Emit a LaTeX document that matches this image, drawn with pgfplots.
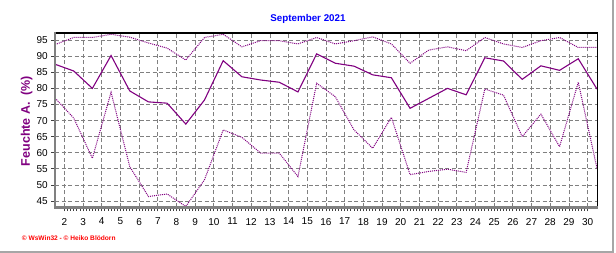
\documentclass[border=0pt]{standalone}
\usepackage{fontspec}
\setmainfont{Liberation Sans}
\usepackage{pgfplots}
\pgfplotsset{compat=1.18}
\definecolor{lin}{HTML}{800080}
\definecolor{grd}{HTML}{808080}
\definecolor{ttl}{HTML}{0000FF}
\begin{document}
\begin{tikzpicture}[x=1pt,y=1pt]
\useasboundingbox (0,0) rectangle (616,253);
\begin{axis}[
  at={(55pt,45.5pt)}, anchor=south west,
  scale only axis, width=542.7pt, height=174.5pt,
  xmin=1.5, xmax=30.54, ymin=43.0, ymax=97.2,
  xtick={2,...,30}, ytick={45,50,...,95},
  minor x tick num=5,
  tick align=outside, xtick pos=bottom, ytick pos=left,
  major tick length=3.8pt, minor tick length=3.3pt,
  tick style={color=black!75, line width=0.8pt},
  grid=major,
  major grid style={grd, line width=0.8pt, dash pattern=on 4pt off 2.5pt},
  axis line style={draw=none},
  ticklabel style={font=\fontsize{10}{12}\selectfont},
  /pgf/number format/assume math mode=true,
  xticklabel style={yshift=-3.2pt},
  clip=false,
]
% maximum
\addplot[lin, line width=1pt, dash pattern=on 1pt off 1pt] coordinates {
(1.5,93.6)(2.5,95.8)(3.5,95.8)(4.5,96.8)(5.5,95.9)(6.5,94.1)(7.5,92.5)(8.5,88.8)
(9.5,95.8)(10.5,96.8)(11.5,92.9)(12.5,94.8)(13.5,94.8)(14.5,93.8)(15.5,95.8)
(16.5,93.8)(17.5,94.8)(18.5,96.0)(19.5,93.8)(20.5,87.8)(21.5,91.9)(22.5,92.9)
(23.5,91.7)(24.5,95.8)(25.5,93.8)(26.5,92.7)(27.5,94.8)(28.5,95.8)(29.5,92.7)(30.5,92.7)
};
% mean
\addplot[lin, line width=1.1pt] coordinates {
(1.5,87.5)(2.5,85.4)(3.5,80.0)(4.5,90.2)(5.5,79.2)(6.5,75.8)(7.5,75.4)(8.5,68.9)
(9.5,76.4)(10.5,88.6)(11.5,83.6)(12.5,82.6)(13.5,81.9)(14.5,78.9)(15.5,90.7)
(16.5,87.8)(17.5,86.9)(18.5,84.2)(19.5,83.3)(20.5,73.8)(21.5,76.9)(22.5,80.0)
(23.5,78.0)(24.5,89.5)(25.5,88.5)(26.5,82.8)(27.5,87.0)(28.5,85.6)(29.5,89.2)(30.5,79.8)
};
% minimum
\addplot[lin, line width=1pt, dash pattern=on 1pt off 1pt] coordinates {
(1.5,77.0)(2.5,70.8)(3.5,58.3)(4.5,78.8)(5.5,55.7)(6.5,46.4)(7.5,47.2)(8.5,43.3)
(9.5,51.6)(10.5,67.1)(11.5,64.8)(12.5,59.9)(13.5,59.9)(14.5,52.6)(15.5,81.6)
(16.5,77.4)(17.5,67.1)(18.5,61.4)(19.5,71.0)(20.5,53.2)(21.5,54.2)(22.5,54.9)
(23.5,53.9)(24.5,79.8)(25.5,77.9)(26.5,65.0)(27.5,72.0)(28.5,61.9)(29.5,81.9)(30.5,55.2)
};
\draw[black, line width=1.3pt] (rel axis cs:0,1) -- (rel axis cs:1,1) -- (rel axis cs:1,0);
\draw[grd, line width=2.2pt] (rel axis cs:1,0) -- (rel axis cs:0,0) -- (rel axis cs:0,1.004);
\end{axis}
\node[font=\bfseries\fontsize{9.8}{12}\selectfont, text=ttl] at (308,234) {September 2021};
\node[rotate=90, font=\bfseries\fontsize{12.5}{14}\selectfont, text=lin] at (26.7,132) {Feuchte A.\ \ (\%)};
\node[anchor=west, font=\bfseries\fontsize{6.6}{8}\selectfont, text=red, inner sep=0pt] at (21.7,15) {© WsWin32 - © Heiko Blödorn};
\draw[black!35, line width=1.5pt] (613,253) -- (613,1.2) -- (0,1.2);
\end{tikzpicture}
\end{document}
